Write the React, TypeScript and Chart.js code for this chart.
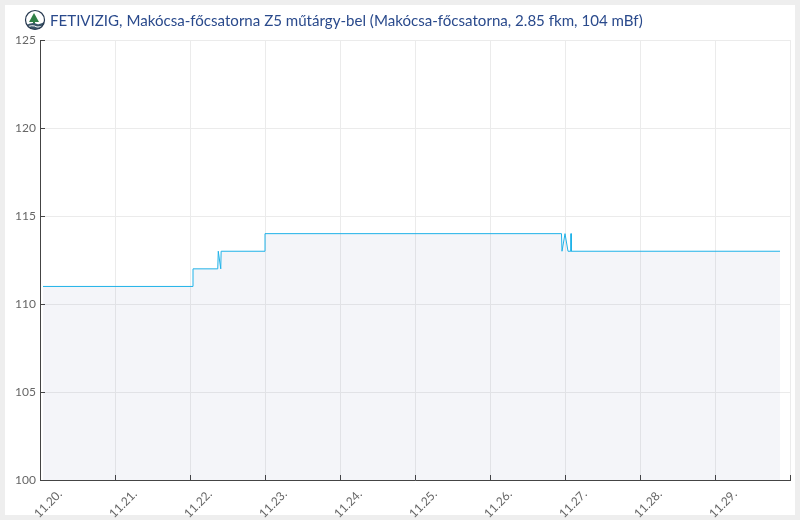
import React, { useEffect, useRef } from "react";
import { Chart, registerables } from "chart.js";

Chart.register(...registerables);

const TITLE = "FETIVIZIG, Makócsa-főcsatorna Z5 műtárgy-bel (Makócsa-főcsatorna, 2.85 fkm, 104 mBf)";
const dayLabels = ["11.20.", "11.21.", "11.22.", "11.23.", "11.24.", "11.25.", "11.26.", "11.27.", "11.28.", "11.29."];
const dayValues = [0.04, 2.04, 2.04, 2.37, 2.377, 2.41, 2.415, 3.0, 3.0, 6.953, 6.96, 7.0, 7.04, 7.077, 7.08, 7.084, 9.867];
const levelValues = [111, 111, 112, 112, 113, 112, 113, 113, 114, 114, 113, 114, 113, 113, 114, 113, 113];

const stepped = dayValues.map((x, i) => ({ x, y: levelValues[i] }));

export default function App() {
  const ref = useRef<HTMLCanvasElement>(null);
  useEffect(() => {
    document.body.style.margin = "0";
    const logo = {
      id: "logo",
      afterLayout(c: any) {
        c.titleBlock.left = 50;
      },
      afterDraw(c: any) {
        const g = c.ctx;
        const cx = 35, cy = 20, r = 9.5;
        g.save();
        g.beginPath(); g.arc(cx, cy, r, 0, Math.PI * 2);
        g.fillStyle = "#ffffff"; g.fill();
        g.clip();
        g.fillStyle = "#2f7f46";
        g.beginPath(); g.moveTo(cx - 1, cy - 7); g.lineTo(cx + 4, cy + 2); g.lineTo(cx - 6, cy + 2); g.closePath(); g.fill();
        g.fillRect(cx - 2, cy + 1, 2, 4);
        g.fillStyle = "#3a5568";
        g.beginPath();
        g.moveTo(cx - 10, cy + 6);
        g.quadraticCurveTo(cx - 3, cy + 1, cx + 2, cy + 4);
        g.quadraticCurveTo(cx + 6, cy + 5, cx + 10, cy + 1);
        g.lineTo(cx + 10, cy + 11);
        g.lineTo(cx - 10, cy + 11);
        g.closePath();
        g.fill();
        g.strokeStyle = "#ffffff";
        g.lineWidth = 1;
        g.beginPath();
        g.moveTo(cx - 10, cy + 8);
        g.quadraticCurveTo(cx - 3, cy + 4, cx + 2, cy + 7);
        g.quadraticCurveTo(cx + 6, cy + 8, cx + 10, cy + 4);
        g.stroke();
        g.restore();
        g.beginPath(); g.arc(cx, cy, r, 0, Math.PI * 2);
        g.strokeStyle = "#26384f"; g.lineWidth = 1.2; g.stroke();
      },
    };
    const chart = new Chart(ref.current!, {
      type: "line",
      data: {
        datasets: [{
          data: stepped,
          borderColor: "#1fb2e8",
          borderWidth: 1,
          backgroundColor: "rgba(30,50,130,0.05)",
          fill: "origin",
          pointRadius: 0,
          tension: 0,
        }],
      },
      plugins: [logo],
      options: {
        animation: false,
        responsive: false,
        layout: { padding: { left: 0, right: 10, top: 0, bottom: 0 } },
        plugins: {
          legend: { display: false },
          tooltip: { enabled: false },
          title: {
            display: true,
            text: TITLE,
            align: "start",
            color: "#2a4a8c",
            font: { family: "Lato", size: 15.08, weight: "normal" },
            padding: { top: 12, bottom: 10 },
          },
        },
        scales: {
          x: {
            type: "linear",
            min: 0,
            max: 10,
            afterFit(s: any) { s.height = 40; s.paddingLeft = 0; s.paddingRight = 0; },
            ticks: {
              stepSize: 1,
              autoSkip: false,
              maxRotation: 45,
              minRotation: 45,
              labelOffset: 20,
              padding: 12,
              color: "#666",
              font: { family: "Lato", size: 12 },
              callback: (v: any) => dayLabels[v] ?? "",
            },
            grid: { color: "#ebebeb", tickColor: "#444", tickLength: -5 },
            border: { color: "#444", width: 1 },
          },
          y: {
            min: 100,
            max: 125,
            afterFit(s: any) { s.width = 40; },
            ticks: {
              stepSize: 5,
              padding: 9,
              color: "#666",
              font: { family: "Lato", size: 12 },
            },
            grid: { color: "#ebebeb", tickColor: "#444", tickLength: -5 },
            border: { color: "#444", width: 1 },
          },
        },
      },
    });
    return () => chart.destroy();
  }, []);
  return (
    <div style={{ position: "absolute", left: 0, top: 0, width: 800, height: 520, background: "#eeeeee" }}>
      <div style={{ position: "absolute", left: 5, top: 5, width: 790, height: 510, background: "#fff" }} />
      <canvas ref={ref} width={800} height={520} style={{ position: "absolute", left: 0, top: 0 }} />
    </div>
  );
}
